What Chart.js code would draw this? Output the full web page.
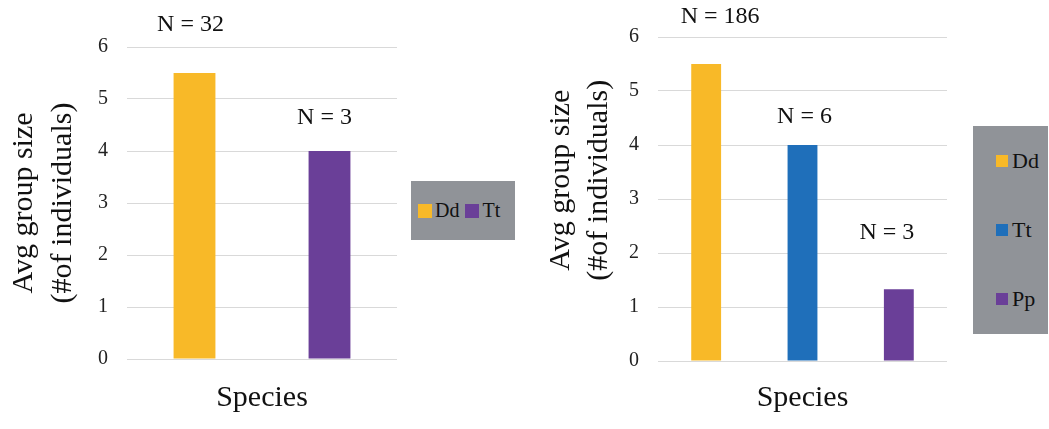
<!DOCTYPE html>
<html>
<head>
<meta charset="utf-8">
<script src="https://cdn.jsdelivr.net/npm/chart.js@4.4.1/dist/chart.umd.min.js"></script>
<style>
    body { margin: 0; background: #fff; width: 1049px; height: 429px; overflow: hidden; position: relative; font-family: "Liberation Serif", serif; }
    .panel { position: absolute; top: 0; height: 429px; }
    .legend { position: absolute; background: #909398; color: #111; box-sizing: border-box; }
    .legend .item { display: flex; align-items: center; }
    .legend .swatch { display: inline-block; }
</style>
</head>
<body>
<div class="panel" style="left:0;width:520px;"><canvas id="chartLeft"></canvas></div>
<div class="panel" style="left:520px;width:529px;"><canvas id="chartRight"></canvas></div>
<div class="legend" id="legendLeft" style="left:411px;top:181px;width:104px;height:59px;display:flex;align-items:center;padding-left:7px;font-size:20px;"></div>
<div class="legend" id="legendRight" style="left:973px;top:126px;width:75px;height:208px;padding-left:23px;padding-top:23px;font-size:22px;"></div>

<script>
/*** Data ***/
const leftSpecies = ["Dd", "Tt"];
const leftGroupSize = [5.5, 4.0];
const leftSampleN = [32, 3];

const rightSpecies = ["Dd", "Tt", "Pp"];
const rightGroupSize = [5.5, 4.0, 1.33];
const rightSampleN = [186, 6, 3];

const yTicks = [0, 1, 2, 3, 4, 5, 6];

const speciesColors = { Dd: "#f8b928", Tt: "#1f6fba", Pp: "#6a3f98" };
const leftColors = { Dd: "#f8b928", Tt: "#6a3f98" };

const serif = "'Liberation Serif', 'Times New Roman', serif";
Chart.defaults.font.family = serif;

/*** N = labels above bars ***/
const nLabelPlugin = {
    id: "nLabels",
    afterDatasetsDraw(chart, args, opts) {
        const ctx = chart.ctx;
        ctx.save();
        ctx.font = "24px " + serif;
        ctx.fillStyle = "#111";
        ctx.textAlign = "center";
        ctx.textBaseline = "middle";
        chart.data.datasets.forEach((ds, i) => {
            const bar = chart.getDatasetMeta(i).data[0];
            const off = opts.offsets[i] || [0, -40];
            ctx.fillText("N = " + opts.counts[i], bar.x + off[0], bar.y + off[1]);
        });
        ctx.restore();
    }
};

const buildChart = (canvasId, species, values, counts, colors, o) => {
    return new Chart(document.getElementById(canvasId), {
        type: "bar",
        data: {
            labels: [""],
            datasets: species.map((name, i) => ({
                label: name,
                data: [values[i]],
                backgroundColor: colors[name],
                borderWidth: 0,
                barPercentage: 0.31,
                categoryPercentage: 1.0
            }))
        },
        options: {
            responsive: true,
            maintainAspectRatio: false,
            animation: false,
            layout: { padding: o.padding },
            plugins: {
                legend: { display: false },
                tooltip: { enabled: false },
                nLabels: { counts, offsets: o.labelOffsets }
            },
            scales: {
                x: {
                    grid: { display: false },
                    border: { display: false },
                    ticks: { display: false },
                    title: {
                        display: true, text: "Species", color: "#111",
                        font: { family: serif, size: 30, lineHeight: 1.2 },
                        padding: { top: 0, bottom: 13 }
                    },
                    afterFit: scale => { scale.height = o.xHeight; }
                },
                y: {
                    min: 0, max: 6,
                    afterBuildTicks: scale => { scale.ticks = yTicks.map(v => ({ value: v })); },
                    grid: { color: "#d9d9d9", lineWidth: 1, drawTicks: false },
                    border: { display: false },
                    ticks: { color: "#222", padding: 19, font: { family: serif, size: 20 } },
                    title: {
                        display: true, text: o.yTitle, color: "#111",
                        font: { family: serif, size: 30, lineHeight: o.titleLine },
                        padding: { top: o.titlePad, bottom: 0 }
                    },
                    afterFit: scale => { scale.width = o.yWidth; }
                }
            }
        },
        plugins: [nLabelPlugin]
    });
};

function drawAll() {
    buildChart("chartLeft", leftSpecies, leftGroupSize, leftSampleN, leftColors, {
        padding: { top: 47, right: 123, bottom: 0, left: 0 },
        xHeight: 70, yWidth: 127, titlePad: 5, titleLine: 1.3,
        yTitle: ["Avg group size", "(#of individuals)"],
        labelOffsets: [[-4, -48], [-5, -33]]
    });

    buildChart("chartRight", rightSpecies, rightGroupSize, rightSampleN, speciesColors, {
        padding: { top: 37, right: 102, bottom: 0, left: 0 },
        xHeight: 68, yWidth: 138, titlePad: 22, titleLine: 1.27,
        yTitle: ["     Avg group size", "     (#of individuals)"],
        labelOffsets: [[14, -47], [2, -28], [-12, -56]]
    });

    /*** HTML legends ***/
    const legendLeft = document.getElementById("legendLeft");
    leftSpecies.forEach(name => {
        const item = document.createElement("span");
        item.className = "item";
        item.style.marginRight = "6px";
        item.innerHTML = "<span class='swatch' style='width:14px;height:14px;margin-right:3px;background:" + leftColors[name] + "'></span>" + name;
        legendLeft.appendChild(item);
    });

    const legendRight = document.getElementById("legendRight");
    rightSpecies.forEach(name => {
        const item = document.createElement("div");
        item.className = "item";
        item.style.height = "24px";
        item.style.marginBottom = "45px";
        item.innerHTML = "<span class='swatch' style='width:12px;height:12px;margin-right:4px;background:" + speciesColors[name] + "'></span>" + name;
        legendRight.appendChild(item);
    });
}

// make sure the serif face is ready before the canvases measure text
if (document.fonts && document.fonts.load) {
    Promise.all([
        document.fonts.load("24px 'Liberation Serif'"),
        document.fonts.load("30px 'Liberation Serif'")
    ]).then(drawAll, drawAll);
} else {
    drawAll();
}
</script>
</body>
</html>
